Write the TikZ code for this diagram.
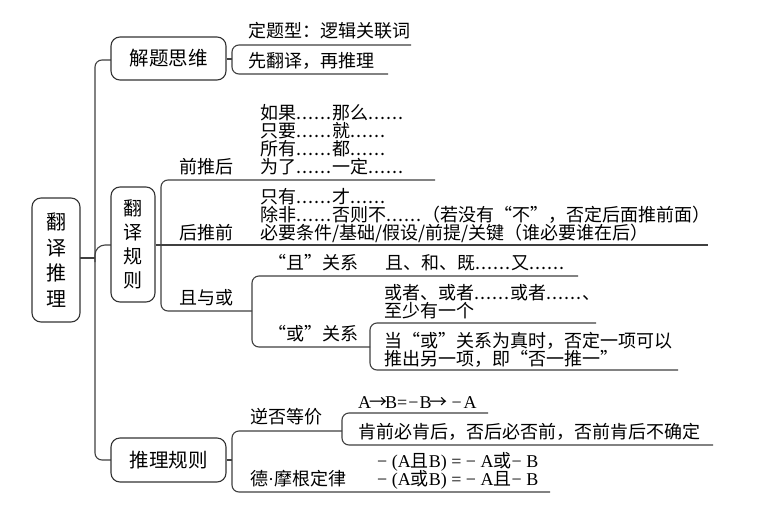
\documentclass[tikz,border=0pt]{standalone}
\usepackage{fontspec}
\setmainfont{Noto Sans CJK SC}
\newfontfamily\latserif{Liberation Serif}
\newcommand\hel{\hbox to 1em{\hfil.\hfil.\hfil.\hfil}}
\begin{document}
\begin{tikzpicture}[x=1pt,y=-1pt,
  line/.style={draw=black!75, line width=1.1pt, rounded corners=7pt},
  stub/.style={draw=black!75, line width=1.1pt},
  boxnode/.style={draw=black!80, line width=1.1pt, rounded corners=9pt, fill=white, align=center},
  txt/.style={anchor=base west, inner sep=0pt, font=\fontsize{18}{18}\selectfont},
]
\useasboundingbox (0,0) rectangle (779,517);
\fill[white] (0,0) rectangle (779,517);

% trunk
\draw[line] (111,60) -- (95,60) -- (95,460) -- (111,460);
\draw[line, rounded corners=10pt] (95,262) |- (111,245);

% boxes
\node[boxnode, minimum width=48pt, minimum height=124pt, font=\fontsize{20}{25.5}\selectfont] (root) at (56,260) {翻\\译\\推\\理};
\draw[stub] (80,258) -- (95,258);
\node[boxnode, minimum width=115pt, minimum height=43pt, font=\fontsize{19.5}{20}\selectfont] (jtsw) at (168.5,58.5) {解题思维};
\node[boxnode, minimum width=44pt, minimum height=115pt, font=\fontsize{19}{24}\selectfont] (fygz) at (133,244.5) {翻\\译\\规\\则};
\node[boxnode, minimum width=115pt, minimum height=44pt, font=\fontsize{19.5}{20}\selectfont] (tlgz) at (168.5,460) {推理规则};

% 解题思维 children
\draw[stub] (jtsw.east |- 0,59) -- (232,59);
\draw[line] (411,45) -- (232,45) -- (232,74) -- (388,74);
\node[txt] (a1) at (248,37.8) {定题型：逻辑关联词};
\node[txt] (a2) at (248,67.8) {先翻译，再推理};

% 翻译规则 children
\draw[stub] (fygz.east |- 0,245) -- (708,245);
\draw[line] (435,180) -- (161,180) -- (161,311) -- (252,311);
\node[txt] (b1) at (179,173.3) {前推后};
\node[txt] (b11) at (260,119.8) {如果\hel\hel 那么\hel\hel};
\node[txt] (b12) at (260,137.8) {只要\hel\hel 就\hel\hel};
\node[txt] (b13) at (260,155.3) {所有\hel\hel 都\hel\hel};
\node[txt] (b14) at (260,173.3) {为了\hel\hel 一定\hel\hel};
\node[txt] (b2) at (179,239.3) {后推前};
\node[txt] (b21) at (260,203.8) {只有\hel\hel 才\hel\hel};
\node[txt] (b22) at (260,221.8) {除非\hel\hel 否则不\hel\hel（若没有“不”，否定后面推前面）};
\node[txt] (b23) at (260,239.3) {必要条件/基础/假设/前提/关键（谁必要谁在后）};
\node[txt] (b3) at (179,304.8) {且与或};

% 且与或 children
\draw[line] (578,276) -- (252,276) -- (252,347) -- (370,347);
\node[txt] (c1) at (268,269.8) {“且”关系};
\node[txt] (c11) at (385,269.8) {且、和、既\hel\hel 又\hel\hel};
\node[txt] (c2) at (268,340.8) {“或”关系};
\draw[line] (596,323) -- (370,323) -- (370,370) -- (678,370);
\node[txt] (c21) at (384,299.8) {或者、或者\hel\hel 或者\hel\hel 、};
\node[txt] (c22) at (384,317.8) {至少有一个};
\node[txt] (c23) at (384,347.8) {当“或”关系为真时，否定一项可以};
\node[txt] (c24) at (384,365.8) {推出另一项，即“否一推一”};

% 推理规则 children
\draw[stub] (tlgz.east) -- (232,460);
\draw[line] (342,431) -- (232,431) -- (232,492) -- (550,492);
\node[txt] (d1) at (250,423.8) {逆否等价};
\draw[line] (488,413) -- (342,413) -- (342,445) -- (713,445);
\node[txt] (d11) at (358,408.3) {{\latserif A}\kern-2pt→\kern-2pt{\latserif B=\kern1pt−\kern1pt B}\kern-2pt→\kern4pt{\latserif −\kern2pt A}};
\node[txt] (d12) at (358,438.8) {肯前必肯后，否后必否前，否前肯后不确定};
\node[txt] (d2) at (250,485.8) {德{\latserif ·}摩根定律};
\node[txt] (d21) at (377,467.8) {{\latserif − (A}且{\latserif B) = − A}或{\latserif − B}};
\node[txt] (d22) at (377,485.8) {{\latserif − (A}或{\latserif B) = − A}且{\latserif − B}};
\end{tikzpicture}
\end{document}
